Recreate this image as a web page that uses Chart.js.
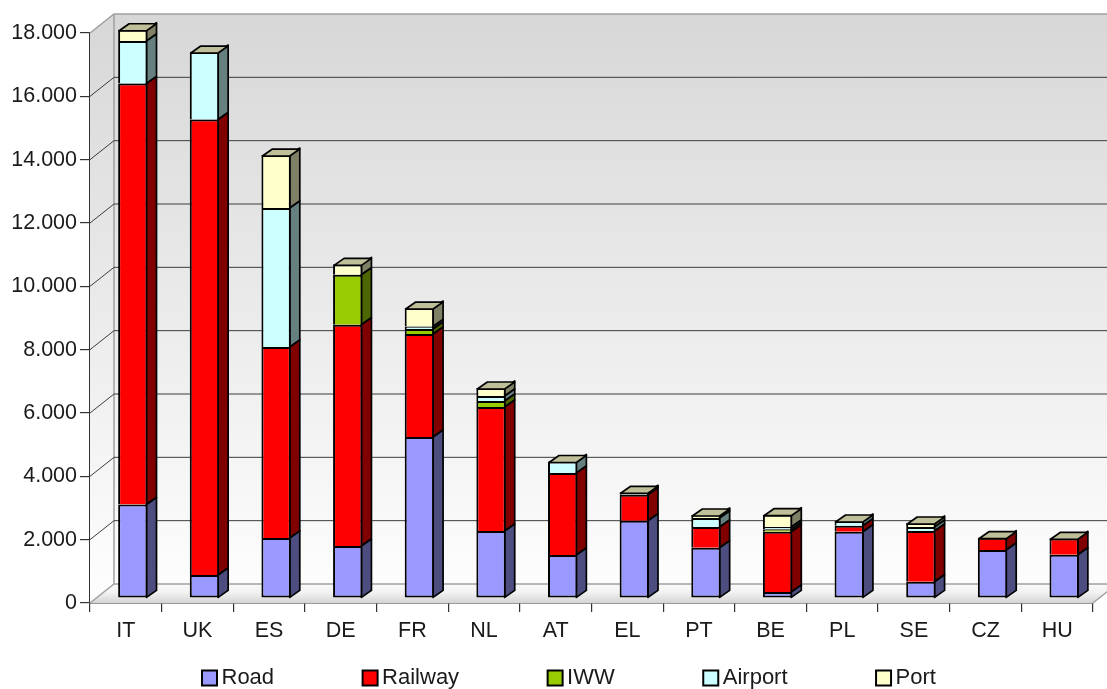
<!DOCTYPE html>
<html>
<head>
<meta charset="utf-8">
<style>
  html, body { margin: 0; padding: 0; background: #ffffff; }
  #wrap { position: relative; width: 1107px; height: 689px; }
</style>
<script src="https://cdn.jsdelivr.net/npm/chart.js@4"></script>
</head>
<body>
<div id="wrap"><canvas id="chart"></canvas></div>
<script>
const countries = ['IT','UK','ES','DE','FR','NL','AT','EL','PT','BE','PL','SE','CZ','HU'];
const road    = [2952, 726, 1895, 1642, 5084, 2116, 1358, 2441, 1588, 189, 2093, 515, 1516, 1367];
const railway = [13294, 14383, 6030, 6988, 3252, 3915, 2589, 821, 654, 1904, 190, 1601, 388, 518];
const iww     = [0, 0, 0, 1579, 158, 189, 0, 0, 0, 75, 0, 0, 0, 0];
const airport = [1342, 2131, 4389, 0, 79, 158, 363, 76, 284, 74, 148, 126, 0, 0];
const port    = [357, 0, 1674, 328, 584, 253, 0, 0, 95, 388, 0, 126, 0, 0];
const seriesNames = ['Road','Railway','IWW','Airport','Port'];
const seriesValues = [road, railway, iww, airport, port];
const faceColors = ['#9999ff','#ff0000','#99cc00','#ccffff','#ffffcc'];
const sideColors = ['#4d4d80','#800000','#4d6600','#668080','#808066'];
const capColor = '#bfbf99';
const yTicks = { min: 0, max: 18000, step: 2000 };

// Projection used for the box look: wall depth and the bar's place within it.
const wallDepth = { x: 24, y: -19 };
const barShift  = { x: 7,  y: -5 };
const barDepth  = { x: 10, y: -7 };
const edgeWidth = 2;
const legendOrigin = { left: 113.5, top: 572 };
const fontFamily = '"Liberation Sans", Arial, sans-serif';

const thousands = v => String(v).replace(/\B(?=(\d{3})+$)/g, '.');

const boxScene = {
  id: 'boxScene',
  beforeLayout(chart) {
    // The legend's wide item spacing must not reserve vertical room.
    const legend = chart.legend;
    if (legend && !legend.compactFit) {
      const fit = legend.fit;
      legend.fit = function () { fit.call(this); this.height = 42; };
      legend.compactFit = true;
    }
  },
  afterLayout(chart) {
    const legend = chart.legend;
    legend.left = legendOrigin.left;
    legend.right = chart.width;
    legend.top = legendOrigin.top;
    legend.bottom = chart.height;
  },
  beforeDatasetsDraw(chart) {
    const { ctx, chartArea: a, scales: { y } } = chart;
    const dx = wallDepth.x, dy = wallDepth.y;
    ctx.save();
    const wall = ctx.createLinearGradient(0, a.top + dy, 0, a.bottom + dy);
    wall.addColorStop(0, '#d7d7d7');
    wall.addColorStop(1, '#fdfdfd');
    ctx.fillStyle = wall;
    // back wall
    ctx.fillRect(a.left + dx, a.top + dy, a.right - a.left, a.bottom - a.top);
    // left wall
    ctx.beginPath();
    ctx.moveTo(a.left, a.top);
    ctx.lineTo(a.left + dx, a.top + dy);
    ctx.lineTo(a.left + dx, a.bottom + dy);
    ctx.lineTo(a.left, a.bottom);
    ctx.closePath();
    ctx.fill();
    // floor
    const f = ctx.createLinearGradient(0, a.bottom + dy, 0, a.bottom);
    f.addColorStop(0, '#f9f9f9');
    f.addColorStop(0.45, '#f2f2f2');
    f.addColorStop(1, '#d4d4d4');
    ctx.fillStyle = f;
    ctx.beginPath();
    ctx.moveTo(a.left, a.bottom);
    ctx.lineTo(a.right, a.bottom);
    ctx.lineTo(a.right + dx, a.bottom + dy);
    ctx.lineTo(a.left + dx, a.bottom + dy);
    ctx.closePath();
    ctx.fill();
    // wall edges
    ctx.strokeStyle = '#a0a0a0';
    ctx.lineWidth = 1.5;
    ctx.beginPath();
    ctx.moveTo(a.left, a.top);
    ctx.lineTo(a.left + dx, a.top + dy);
    ctx.lineTo(a.right + dx, a.top + dy);
    ctx.moveTo(a.left + dx, a.top + dy);
    ctx.lineTo(a.left + dx, a.bottom + dy);
    ctx.moveTo(a.left, a.bottom);
    ctx.lineTo(a.left + dx, a.bottom + dy);
    ctx.lineTo(a.right + dx, a.bottom + dy);
    ctx.moveTo(a.right, a.bottom);
    ctx.lineTo(a.right + dx, a.bottom + dy);
    ctx.stroke();
    // grid lines running along left wall and back wall
    ctx.strokeStyle = '#3c3c3c';
    ctx.lineWidth = 1;
    ctx.beginPath();
    y.ticks.forEach(t => {
      if (t.value === yTicks.min || t.value === yTicks.max) return;
      const py = y.getPixelForValue(t.value);
      ctx.moveTo(a.left, py);
      ctx.lineTo(a.left + dx, py + dy);
      ctx.lineTo(a.right + dx, py + dy);
    });
    ctx.stroke();
    ctx.restore();
  },
  beforeDatasetDraw(chart, args) {
    const { ctx } = chart;
    const meta = args.meta;
    ctx.save();
    ctx.translate(barShift.x, barShift.y);
    ctx.fillStyle = sideColors[args.index];
    ctx.strokeStyle = '#000000';
    ctx.lineWidth = edgeWidth * 0.85;
    ctx.lineJoin = 'round';
    meta.data.forEach(bar => {
      if (Math.abs(bar.base - bar.y) < 0.01) return;
      const rx = bar.x + bar.width / 2 - edgeWidth / 2;
      ctx.beginPath();
      ctx.moveTo(rx, bar.y);
      ctx.lineTo(rx + barDepth.x, bar.y + barDepth.y);
      ctx.lineTo(rx + barDepth.x, bar.base + barDepth.y);
      ctx.lineTo(rx, bar.base);
      ctx.closePath();
      ctx.fill();
      ctx.stroke();
    });
  },
  afterDatasetDraw(chart) {
    chart.ctx.restore();
  },
  afterDatasetsDraw(chart) {
    const { ctx } = chart;
    const topMeta = chart.getDatasetMeta(seriesValues.length - 1);
    ctx.save();
    ctx.translate(barShift.x, barShift.y);
    ctx.fillStyle = capColor;
    ctx.strokeStyle = '#000000';
    ctx.lineWidth = edgeWidth * 0.85;
    ctx.lineJoin = 'round';
    topMeta.data.forEach(bar => {
      const lx = bar.x - bar.width / 2 + edgeWidth / 2;
      const rx = bar.x + bar.width / 2 - edgeWidth / 2;
      const ty = bar.y + edgeWidth / 2;
      ctx.beginPath();
      ctx.moveTo(lx, ty);
      ctx.lineTo(lx + barDepth.x, ty + barDepth.y);
      ctx.lineTo(rx + barDepth.x, ty + barDepth.y);
      ctx.lineTo(rx, ty);
      ctx.closePath();
      ctx.fill();
      ctx.stroke();
    });
    ctx.restore();
  }
};

new Chart(document.getElementById('chart'), {
  type: 'bar',
  data: {
    labels: countries,
    datasets: seriesNames.map((name, i) => ({
      label: name,
      data: seriesValues[i],
      backgroundColor: faceColors[i],
      borderColor: '#000000',
      borderWidth: edgeWidth,
      borderSkipped: i === 0 ? false : 'start',
      barPercentage: 0.41,
      categoryPercentage: 1,
      clip: false
    }))
  },
  options: {
    responsive: true,
    maintainAspectRatio: false,
    animation: false,
    layout: { padding: { left: 0, right: 14, top: 33, bottom: 0 } },
    plugins: {
      title: { display: false },
      tooltip: { enabled: false },
      legend: {
        position: 'bottom',
        align: 'start',
        labels: {
          usePointStyle: true,
          pointStyle: 'rect',
          boxWidth: 2,
          boxHeight: 15,
          padding: 95,
          color: '#1a1a1a',
          font: { family: fontFamily, size: 22 }
        }
      }
    },
    scales: {
      x: {
        stacked: true,
        afterFit: s => { s.height = 44; },
        grid: { drawOnChartArea: false, drawTicks: true, tickLength: 9, color: '#333333', lineWidth: 1.2, offset: true },
        border: { display: true, color: '#333333', width: 1.5 },
        ticks: { color: '#1a1a1a', padding: 6, maxRotation: 0, font: { family: fontFamily, size: 21.5 } }
      },
      y: {
        stacked: true,
        min: yTicks.min,
        max: yTicks.max,
        afterFit: s => { s.width = 90; },
        grid: { drawOnChartArea: false, drawTicks: true, tickLength: 10, color: '#333333', lineWidth: 1.2 },
        border: { display: true, color: '#333333', width: 1.5 },
        ticks: {
          stepSize: yTicks.step,
          color: '#1a1a1a',
          padding: 3,
          font: { family: fontFamily, size: 21.5 },
          callback: v => thousands(v)
        }
      }
    }
  },
  plugins: [boxScene]
});
</script>
</body>
</html>
